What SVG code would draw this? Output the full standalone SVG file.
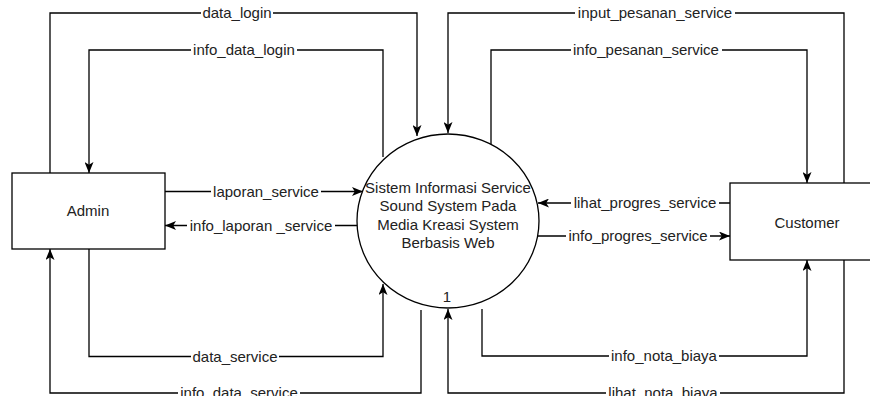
<svg xmlns="http://www.w3.org/2000/svg" width="870" height="396" viewBox="0 0 870 396">
  <style>
    .shape { fill: #ffffff; stroke: #000000; stroke-width: 1.3; }
    .flow { fill: none; stroke: #000000; stroke-width: 1.3; marker-end: url(#arrow); }
    .lbl-bg { fill: #ffffff; stroke: none; }
    .lbl { font-family: "Liberation Sans", Arial, sans-serif; font-size: 15px; fill: #222222; text-anchor: middle; }
    .node-text { font-family: "Liberation Sans", Arial, sans-serif; font-size: 15px; fill: #222222; text-anchor: middle; }
  </style>
  <defs>
    <marker id="arrow" viewBox="0 0 11 9" refX="11" refY="4.5" markerWidth="11" markerHeight="9" markerUnits="userSpaceOnUse" orient="auto">
      <path d="M0,0 L11,4.5 L0,9 L2.8,4.5 Z" fill="#000000"/>
    </marker>
  </defs>
  <rect width="870" height="396" fill="#ffffff"/>

  <g id="connectors">
    <g id="edge-data_login">
      <path class="flow" d="M50,173 V13 H417 V136"/>
      <rect class="lbl-bg" x="201" y="5" width="72" height="16"/>
      <text class="lbl" x="237" y="18">data_login</text>
    </g>
    <g id="edge-info_data_login">
      <path class="flow" d="M383,157 V50 H89 V173"/>
      <rect class="lbl-bg" x="191" y="42" width="106" height="16"/>
      <text class="lbl" x="244" y="55">info_data_login</text>
    </g>
    <g id="edge-input_pesanan_service">
      <path class="flow" d="M844,183 V13 H448 V133"/>
      <rect class="lbl-bg" x="575" y="5" width="160" height="16"/>
      <text class="lbl" x="655" y="18">input_pesanan_service</text>
    </g>
    <g id="edge-info_pesanan_service">
      <path class="flow" d="M491,144 V50 H807 V183"/>
      <rect class="lbl-bg" x="571" y="42" width="151" height="16"/>
      <text class="lbl" x="646" y="55">info_pesanan_service</text>
    </g>
    <g id="edge-laporan_service">
      <path class="flow" d="M165,191.5 H363"/>
      <rect class="lbl-bg" x="211" y="184" width="110" height="16"/>
      <text class="lbl" x="266" y="196.5">laporan_service</text>
    </g>
    <g id="edge-info_laporan_service">
      <path class="flow" d="M357,225.5 H165"/>
      <rect class="lbl-bg" x="187" y="218" width="148" height="16"/>
      <text class="lbl" x="261" y="230.5">info_laporan _service</text>
    </g>
    <g id="edge-data_service">
      <path class="flow" d="M89,249 V356.5 H383 V284"/>
      <rect class="lbl-bg" x="191" y="349" width="88" height="16"/>
      <text class="lbl" x="235" y="361.5">data_service</text>
    </g>
    <g id="edge-info_data_service">
      <path class="flow" d="M421,310 V393 H50 V249"/>
      <rect class="lbl-bg" x="178" y="385" width="122" height="16"/>
      <text class="lbl" x="239" y="398">info_data_service</text>
    </g>
    <g id="edge-lihat_progres_service">
      <path class="flow" d="M730,203 H538"/>
      <rect class="lbl-bg" x="571" y="195" width="148" height="16"/>
      <text class="lbl" x="645" y="208">lihat_progres_service</text>
    </g>
    <g id="edge-info_progres_service">
      <path class="flow" d="M538,236 H730"/>
      <rect class="lbl-bg" x="566" y="228" width="144" height="16"/>
      <text class="lbl" x="638" y="241">info_progres_service</text>
    </g>
    <g id="edge-info_nota_biaya">
      <path class="flow" d="M482,309 V356 H807 V260"/>
      <rect class="lbl-bg" x="609" y="348" width="110" height="16"/>
      <text class="lbl" x="664" y="361">info_nota_biaya</text>
    </g>
    <g id="edge-lihat_nota_biaya">
      <path class="flow" d="M844,260 V393 H448 V309"/>
      <rect class="lbl-bg" x="606" y="385" width="114" height="16"/>
      <text class="lbl" x="663" y="398">lihat_nota_biaya</text>
    </g>
  </g>

  <g id="node-admin">
    <rect class="shape" x="12" y="173" width="153" height="76"/>
    <text class="node-text" x="88" y="216">Admin</text>
  </g>

  <g id="node-customer">
    <rect class="shape" x="730" y="183" width="153" height="77"/>
    <text class="node-text" x="807" y="227.5">Customer</text>
  </g>

  <g id="node-process">
    <ellipse class="shape" cx="448" cy="221" rx="91" ry="87"/>
    <text class="node-text" x="448" y="193">Sistem Informasi Service</text>
    <text class="node-text" x="448" y="211">Sound System Pada</text>
    <text class="node-text" x="448" y="229.5">Media Kreasi System</text>
    <text class="node-text" x="448" y="247.5">Berbasis Web</text>
    <text class="node-text" x="447" y="302">1</text>
  </g>
</svg>
